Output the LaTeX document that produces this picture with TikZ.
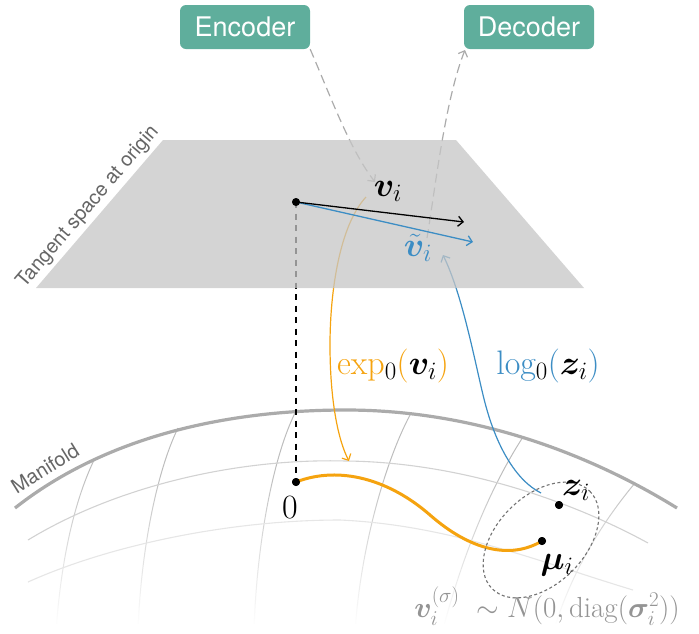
\RequirePackage{fix-cm}
\documentclass[tikz,border=0pt]{standalone}
\usepackage{amsmath,amssymb,bm}
\usepackage{fontspec}
\newfontfamily\hv{TeX Gyre Heros}
\usetikzlibrary{arrows.meta,fadings}
\DeclareMathSizes{34}{34}{25}{20}
\DeclareMathSizes{29}{29}{21}{16}
\definecolor{tealbox}{HTML}{5FAE9C}
\definecolor{orangec}{HTML}{F5A30F}
\definecolor{bluec}{HTML}{3C8DC4}
\definecolor{arcg}{HTML}{ABABAB}
\definecolor{merg}{HTML}{BDBDBD}
\definecolor{lat1}{HTML}{D2D2D2}
\definecolor{lat2}{HTML}{E6E6E6}
\definecolor{dashg}{HTML}{ABABAB}
\definecolor{txtg}{HTML}{666666}
\definecolor{labg}{HTML}{949494}
\tikzfading[name=fadedown,top color=transparent!100,bottom color=transparent!0]
\newcommand{\fs}[1]{\fontsize{#1}{#1}\selectfont}
\tikzset{
  box/.style={fill=tealbox,rounded corners=6pt,minimum width=130pt,minimum height=44pt,inner sep=0pt,text=white,font=\hv\fs{27}},
  meridian/.style={draw=merg,line width=1pt},
  dotn/.style={circle,fill=black,inner sep=0pt,minimum size=8pt},
  thin1/.style={line width=1.2pt},
  grayarrow/.style={dashg,line width=1.2pt,dash pattern=on 9pt off 5pt,-{Straight Barb[length=5pt,width=10pt]}},
  barb/.style={-{Straight Barb[length=5pt,width=10pt]}},
  sidetext/.style={text=txtg,font=\hv\fs{20},inner sep=0pt},
  mathlab/.style={inner sep=0pt,font=\fs{34}},
}
\begin{document}
\begin{tikzpicture}[x=1pt,y=-1pt]
\useasboundingbox (0,0) rectangle (699,633);
% meridians
\draw[meridian] (95,458) .. controls (72,505) and (60,570) .. (56,633);
\draw[meridian] (178,428) .. controls (155,475) and (140,560) .. (138,633);
\draw[meridian] (296,411) .. controls (272,458) and (256,550) .. (254,633);
\draw[meridian] (410,415) .. controls (385,462) and (360,550) .. (355,633);
\draw[meridian] (523,437) .. controls (495,480) and (465,545) .. (442,633);
\draw[meridian] (635,483) .. controls (600,525) and (570,575) .. (553,633);
\fill[white,path fading=fadedown] (0,470) rectangle (699,625);
\fill[white] (0,624) rectangle (699,634);
% parallels
\draw[lat1,line width=1.1pt] (28,540) .. controls (115,487) and (235,458) .. (346,461) .. controls (450,462) and (560,495) .. (648,543);
\draw[lat2,line width=1.1pt] (28,582) .. controls (110,545) and (230,520) .. (340,520) .. controls (450,525) and (540,562) .. (633,590);
% manifold edge
\draw[arcg,line width=3.2pt] (15,508) .. controls (105,437) and (225,410) .. (346,410) .. controls (460,410) and (575,445) .. (677,508);
% named points
\coordinate (ormid) at (330,345);
\coordinate (orstart) at (366,197);
\coordinate (orend) at (349,461);
\coordinate (blstart) at (541,493);
\coordinate (blmid) at (487,410);
\coordinate (blend) at (443,255);
\coordinate (vend) at (464,222);
\coordinate (tvend) at (473,242);
\coordinate (encend) at (375,182);
\coordinate (decstart) at (427,238);
\node[dotn] (org) at (296,202) {};
\node[dotn] (zero) at (296,482) {};
\node[dotn] (mu) at (542,541) {};
\node[dotn] (z) at (559,505) {};
\node[box] (enc) at (245,27) {Encoder};
\node[box] (dec) at (529,27) {Decoder};
% under the plane
\draw[black,line width=1.1pt,dash pattern=on 6pt off 5.5pt] (org.center) -- (zero.center);
\draw[orangec,thin1,barb] (orstart) .. controls (340,225) and (330,290) .. (ormid) .. controls (330,400) and (338,440) .. (orend);
\draw[bluec,thin1,barb] (blstart) .. controls (515,480) and (497,445) .. (blmid) .. controls (478,380) and (465,300) .. (blend);
\draw[grayarrow] (enc.south east) .. controls (330,95) and (350,150) .. (encend);
\draw[grayarrow] (decstart) .. controls (435,190) and (445,100) .. (465,50);
% tangent plane
\fill[fill=black!22.5,opacity=.75] (163,140) -- (456,140) -- (584,288) -- (36,288) -- cycle;
% vectors
\draw[bluec,line width=1.3pt,barb] (org.center) -- (tvend);
\draw[black,line width=1.3pt,barb] (org.center) -- (vend);
\node[dotn] at (org) {};
% manifold curve and ellipse
\draw[orangec,line width=3pt] (zero.center) .. controls (340,465) and (390,480) .. (430,515) .. controls (470,550) and (510,560) .. (mu.center);
\draw[black!55,line width=1.1pt,dash pattern=on 3pt off 2.5pt,rotate around={45:(541,540)}] (541,540) ellipse [x radius=69,y radius=44];
\node[dotn] at (zero) {};
\node[dotn] at (mu) {};
\node[dotn] at (z) {};
% labels
\node[sidetext,rotate=49.4] (tang) at (88,207) {Tangent space at origin};
\node[sidetext,rotate=32] (manif) at (45,468) {Manifold};
\node[mathlab] (lv) at (388,191) {$\bm{v}_i$};
\node[mathlab,text=bluec] (ltv) at (418,248) {$\tilde{\bm{v}}_i$};
\node[mathlab] (lz) at (576,490) {$\bm{z}_i$};
\node[mathlab] (lmu) at (557,565) {$\bm{\mu}_i$};
\node[mathlab] (l0) at (290,508) {$0$};
\node[mathlab] (lexp) at (393,366) {$\textcolor{orangec}{\exp}_0\textcolor{orangec}{(}\bm{v}_i\textcolor{orangec}{)}$};
\node[mathlab] (llog) at (548,366) {$\textcolor{bluec}{\log}_0\textcolor{bluec}{(}\bm{z}_i\textcolor{bluec}{)}$};
\node[mathlab,text=labg,font=\fs{29}] (lsig) at (547,606) {$\bm{v}_i^{(\sigma)}\ \sim N(0,\operatorname{diag}(\bm{\sigma}_i^2))$};
\end{tikzpicture}
\end{document}
